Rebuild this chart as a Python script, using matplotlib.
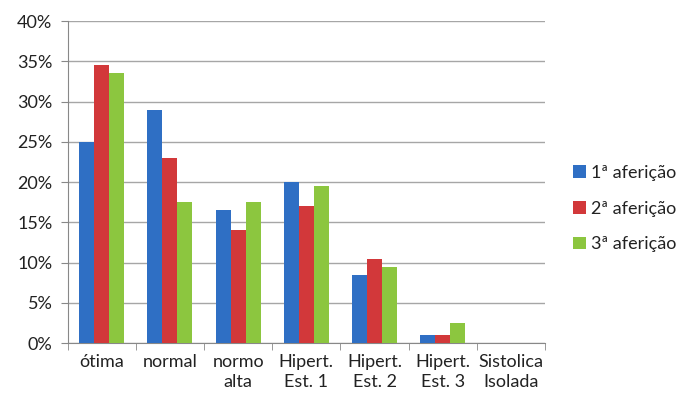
import matplotlib
matplotlib.use("Agg")
import matplotlib.pyplot as plt
import numpy as np
from matplotlib.ticker import FuncFormatter, MultipleLocator, FixedLocator

plt.rcParams['font.family'] = ['Lato', 'DejaVu Sans']

categories = ["ótima", "normal", "normo\nalta", "Hipert.\nEst. 1", "Hipert.\nEst. 2", "Hipert.\nEst. 3", "Sistolica\nIsolada"]
afericao_1 = [25.0, 29.0, 16.5, 20.0, 8.5, 1.0, 0.0]
afericao_2 = [34.5, 23.0, 14.0, 17.0, 10.5, 1.0, 0.0]
afericao_3 = [33.5, 17.5, 17.5, 19.5, 9.5, 2.5, 0.0]
series_labels = ["1ª aferição", "2ª aferição", "3ª aferição"]
colors = ["#2F6FC4", "#D2383A", "#8CC63F"]

fig = plt.figure(figsize=(6.77, 3.99), dpi=100)
ax = fig.add_axes([0.100, 0.140, 0.705, 0.807])

x = np.arange(len(categories))
w = 0.22
for i, (vals, lab, c) in enumerate(zip([afericao_1, afericao_2, afericao_3], series_labels, colors)):
    ax.bar(x + (i - 1) * w, vals, width=w, color=c, label=lab, zorder=3)

ax.set_xlim(-0.5, len(categories) - 0.5)
ax.set_ylim(0, 40)
ax.yaxis.set_major_locator(MultipleLocator(5))
ax.yaxis.set_major_formatter(FuncFormatter(lambda v, p: f"{int(v)}%"))
ax.grid(axis='y', color='#A6A6A6', linewidth=1.0, zorder=0)

ax.set_xticks(x)
ax.set_xticklabels(categories, fontsize=13, color='#222222', linespacing=1.25)
ax.tick_params(axis='x', length=0, pad=8)
ax.xaxis.set_minor_locator(FixedLocator(np.arange(-0.5, len(categories), 1.0)))
ax.tick_params(axis='x', which='minor', length=5, color='#888888', direction='out')
ax.tick_params(axis='y', length=5, color='#888888', labelsize=13, labelcolor='#222222', pad=6)

for s in ['top', 'right']:
    ax.spines[s].set_visible(False)
for s in ['left', 'bottom']:
    ax.spines[s].set_color('#888888')

leg = fig.legend(loc='upper left', bbox_to_anchor=(0.823, 0.628), frameon=False,
                 fontsize=13, handlelength=0.7, handleheight=0.7, handletextpad=0.3,
                 labelspacing=1.1)
for t in leg.get_texts():
    t.set_color('#222222')

fig.savefig("out.png", dpi=100)
